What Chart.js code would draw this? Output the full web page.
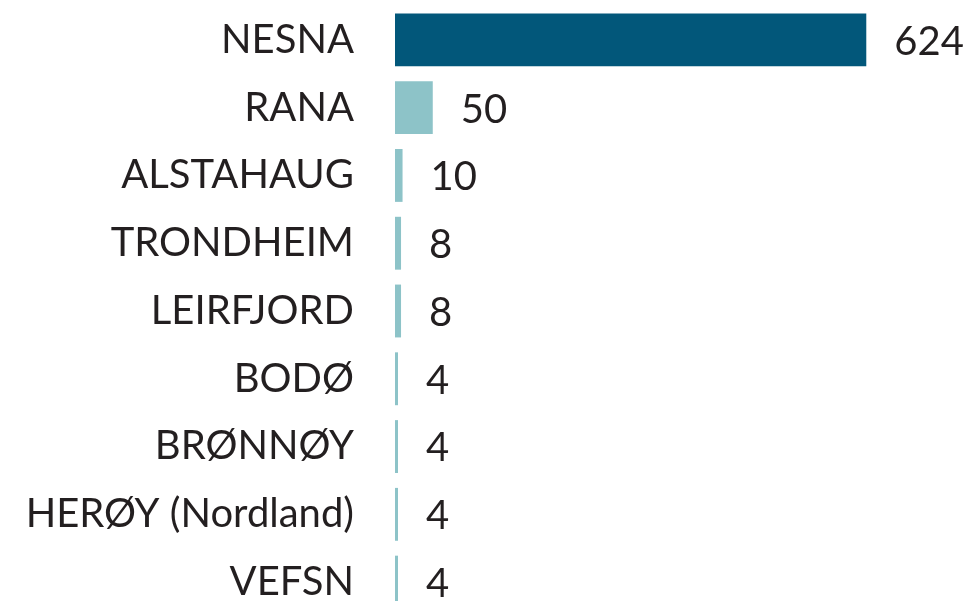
<!DOCTYPE html>
<html>
    <head>
        <meta charset="utf-8">
        <script src="https://cdn.jsdelivr.net/npm/chart.js@4.4.0/dist/chart.umd.min.js"></script>
        <style>
            html, body { margin:0; padding:0; background:#fff; overflow:hidden; }
            #wrap { width:969px; height:616px; position:relative; }
        </style>
    </head>
    <body>
        <div id="wrap">
            <canvas id="myChart"></canvas>
        </div>
    </body>
    <script>
        // 데이터
        const kommuner = ['NESNA','RANA','ALSTAHAUG','TRONDHEIM','LEIRFJORD','BODØ','BRØNNØY','HERØY (Nordland)','VEFSN']
        const antall = [624, 50, 10, 8, 8, 4, 4, 4, 4]
        const xMax = 760

        const dark = '#02577a'
        const light = '#8dc3c8'
        const textColor = '#231f20'
        const fontFamily = 'Lato, "Open Sans", sans-serif'

        // 막대 끝에 값 쓰기
        const valueLabels = {
            id:'valueLabels',
            afterDatasetsDraw(chart){
                const ctx = chart.ctx
                const meta = chart.getDatasetMeta(0)
                ctx.save()
                ctx.font = '40px ' + fontFamily
                ctx.fillStyle = textColor
                ctx.textAlign = 'left'
                ctx.textBaseline = 'middle'
                meta.data.forEach((bar, i)=>{
                    ctx.fillText(String(antall[i]), bar.x + 28, bar.y + 2)
                })
                ctx.restore()
            }
        }

        const config = {
            type:'bar',
            data:{
                labels:kommuner,
                datasets:[{
                    data:antall,
                    backgroundColor:antall.map((v,i)=> i === 0 ? dark : light),
                    borderWidth:0,
                    barPercentage:0.78,
                    categoryPercentage:1
                }]
            },
            options:{
                indexAxis:'y',
                responsive:true,
                maintainAspectRatio:false,
                animation:false,
                layout:{ padding:{ top:6, right:0, bottom:0, left:0 } },
                plugins:{ legend:{display:false}, tooltip:{enabled:false} },
                scales:{
                    x:{ display:false, min:0, max:xMax },
                    y:{
                        grid:{ display:false, drawTicks:false },
                        border:{ display:false },
                        ticks:{
                            color:textColor,
                            font:{ family:fontFamily, size:40 },
                            padding:41
                        },
                        afterFit:(scale)=>{
                            scale.width = 395
                            scale.paddingTop = 0
                            scale.paddingBottom = 0
                        }
                    }
                }
            },
            plugins:[valueLabels]
        }
        const myChart = new Chart(document.getElementById('myChart'), config)
    </script>
</html>
